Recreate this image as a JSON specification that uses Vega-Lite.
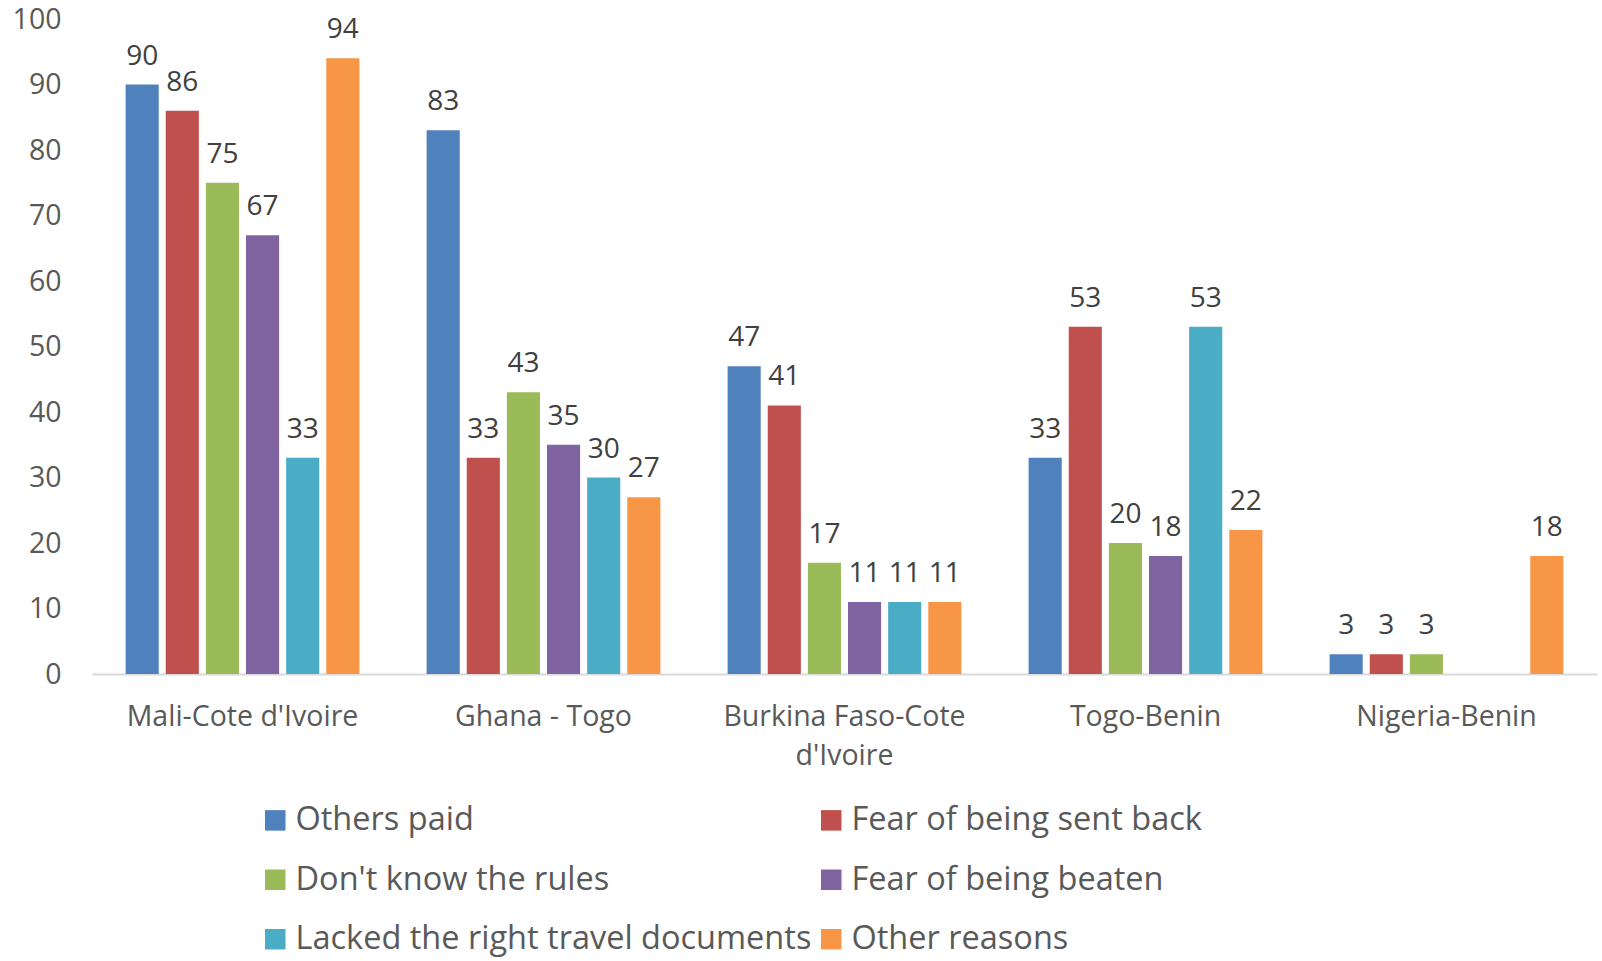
{
  "$schema": "https://vega.github.io/schema/vega-lite/v6.json",
  "width": 1505,
  "height": 655,
  "autosize": {"type": "none"},
  "padding": {"left": 92, "top": 19, "right": 5, "bottom": 287},
  "background": "white",
  "config": {"view": {"stroke": null}, "font": "Open Sans"},
  "data": {
    "values": [
      {"route": "Mali-Cote d'Ivoire", "reason": "Others paid", "value": 90},
      {"route": "Mali-Cote d'Ivoire", "reason": "Fear of being sent back", "value": 86},
      {"route": "Mali-Cote d'Ivoire", "reason": "Don't know the rules", "value": 75},
      {"route": "Mali-Cote d'Ivoire", "reason": "Fear of being beaten", "value": 67},
      {"route": "Mali-Cote d'Ivoire", "reason": "Lacked the right travel documents", "value": 33},
      {"route": "Mali-Cote d'Ivoire", "reason": "Other reasons", "value": 94},
      {"route": "Ghana - Togo", "reason": "Others paid", "value": 83},
      {"route": "Ghana - Togo", "reason": "Fear of being sent back", "value": 33},
      {"route": "Ghana - Togo", "reason": "Don't know the rules", "value": 43},
      {"route": "Ghana - Togo", "reason": "Fear of being beaten", "value": 35},
      {"route": "Ghana - Togo", "reason": "Lacked the right travel documents", "value": 30},
      {"route": "Ghana - Togo", "reason": "Other reasons", "value": 27},
      {"route": "Burkina Faso-Cote d'Ivoire", "reason": "Others paid", "value": 47},
      {"route": "Burkina Faso-Cote d'Ivoire", "reason": "Fear of being sent back", "value": 41},
      {"route": "Burkina Faso-Cote d'Ivoire", "reason": "Don't know the rules", "value": 17},
      {"route": "Burkina Faso-Cote d'Ivoire", "reason": "Fear of being beaten", "value": 11},
      {"route": "Burkina Faso-Cote d'Ivoire", "reason": "Lacked the right travel documents", "value": 11},
      {"route": "Burkina Faso-Cote d'Ivoire", "reason": "Other reasons", "value": 11},
      {"route": "Togo-Benin", "reason": "Others paid", "value": 33},
      {"route": "Togo-Benin", "reason": "Fear of being sent back", "value": 53},
      {"route": "Togo-Benin", "reason": "Don't know the rules", "value": 20},
      {"route": "Togo-Benin", "reason": "Fear of being beaten", "value": 18},
      {"route": "Togo-Benin", "reason": "Lacked the right travel documents", "value": 53},
      {"route": "Togo-Benin", "reason": "Other reasons", "value": 22},
      {"route": "Nigeria-Benin", "reason": "Others paid", "value": 3},
      {"route": "Nigeria-Benin", "reason": "Fear of being sent back", "value": 3},
      {"route": "Nigeria-Benin", "reason": "Don't know the rules", "value": 3},
      {"route": "Nigeria-Benin", "reason": "Other reasons", "value": 18}
    ]
  },
  "encoding": {
    "x": {
      "field": "route",
      "type": "nominal",
      "sort": ["Mali-Cote d'Ivoire", "Ghana - Togo", "Burkina Faso-Cote d'Ivoire", "Togo-Benin", "Nigeria-Benin"],
      "scale": {"paddingInner": 0.2, "paddingOuter": 0.1},
      "axis": {
        "title": null,
        "labelAngle": 0,
        "ticks": false,
        "domainColor": "#d9d9d9",
        "domainWidth": 2,
        "labelFontSize": 28.5,
        "labelColor": "#595959",
        "labelPadding": 28,
        "labelLineHeight": 39,
        "labelLimit": 0,
        "labelBaseline": "top",
        "labelExpr": "datum.label == \"Burkina Faso-Cote d'Ivoire\" ? ['Burkina Faso-Cote', \"d'Ivoire\"] : datum.label"
      }
    },
    "xOffset": {
      "field": "reason",
      "type": "nominal",
      "sort": ["Others paid", "Fear of being sent back", "Don't know the rules", "Fear of being beaten", "Lacked the right travel documents", "Other reasons"],
      "scale": {"paddingInner": 0.175, "paddingOuter": 0.0875}
    },
    "y": {
      "field": "value",
      "type": "quantitative",
      "scale": {"domain": [0, 100], "nice": false},
      "axis": {
        "title": null,
        "values": [0, 10, 20, 30, 40, 50, 60, 70, 80, 90, 100],
        "grid": false,
        "domain": false,
        "ticks": false,
        "labelFontSize": 28.5,
        "labelColor": "#595959",
        "labelPadding": 31
      }
    }
  },
  "layer": [
    {
      "mark": {"type": "bar"},
      "encoding": {
        "color": {
          "field": "reason",
          "type": "nominal",
          "sort": ["Others paid", "Fear of being sent back", "Don't know the rules", "Fear of being beaten", "Lacked the right travel documents", "Other reasons"],
          "scale": {
            "domain": ["Others paid", "Fear of being sent back", "Don't know the rules", "Fear of being beaten", "Lacked the right travel documents", "Other reasons"],
            "range": ["#4F81BD", "#C0504D", "#9BBB59", "#8064A2", "#4BACC6", "#F79646"]
          },
          "legend": {
            "title": null,
            "orient": "none",
            "legendX": 167,
            "legendY": 785,
            "direction": "horizontal",
            "columns": 2,
            "symbolType": "square",
            "symbolSize": 420,
            "symbolStrokeWidth": 0,
            "labelFontSize": 32.5,
            "labelColor": "#595959",
            "labelOffset": 4,
            "labelLimit": 0,
            "columnPadding": 3,
            "rowPadding": 26.5
          }
        }
      }
    },
    {
      "mark": {"type": "text", "baseline": "alphabetic", "dy": -20, "fontSize": 28, "color": "#404040"},
      "encoding": {"text": {"field": "value", "type": "quantitative"}}
    }
  ]
}
